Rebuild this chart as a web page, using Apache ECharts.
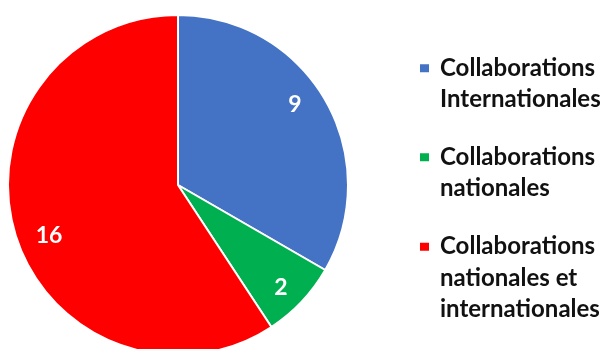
<!DOCTYPE html>
<html>
<head>
<meta charset="utf-8">
<script src="https://cdn.jsdelivr.net/npm/echarts@6/dist/echarts.min.js"></script>
<style>
  html, body { margin: 0; padding: 0; background: #ffffff; }
  #chart { width: 609px; height: 349px; }
</style>
</head>
<body>
<div id="chart"></div>
<script>
// Collaboration types and their counts
const categories = [
  'Collaborations\nInternationales',
  'Collaborations\nnationales',
  'Collaborations\nnationales et\ninternationales'
];
const counts = [9, 2, 16];
const sliceColors = ['#4472C4', '#00B050', '#FF0000'];

const FONT = 'Lato, "Open Sans", sans-serif';
const LINE_H = 31.5;

// small nudges of the value labels off the mid-angle (in px)
const labelNudge = [[-7, -9], [-1, 4], [8, 10]];

const pieData = categories.map((name, i) => ({
  name: name,
  value: counts[i],
  itemStyle: { color: sliceColors[i] }
}));

// One legend block per category; leading blank lines keep the swatch
// level with the first line of its text
const legendTops = [16, 105, 163];
const legends = categories.map((name, i) => {
  const lines = name.split('\n').length;
  return {
    data: [name],
    left: 413,
    top: legendTops[i],
    orient: 'vertical',
    icon: 'rect',
    itemWidth: 11,
    itemHeight: 10,
    selectedMode: false,
    formatter: (n) => '\n'.repeat(lines - 1) + n,
    textStyle: {
      fontFamily: FONT,
      fontWeight: 'bold',
      fontSize: 24,
      color: '#111111',
      lineHeight: LINE_H,
      padding: [0, 0, 0, 5]
    }
  };
});

const chart = echarts.init(document.getElementById('chart'), null, { renderer: 'canvas' });
chart.setOption({
  backgroundColor: '#ffffff',
  animation: false,
  legend: legends,
  series: [
    {
      name: 'slices',
      type: 'pie',
      center: [178, 185],
      radius: 170,
      startAngle: 90,
      clockwise: true,
      silent: true,
      label: { show: false },
      labelLine: { show: false },
      itemStyle: { borderColor: '#ffffff', borderWidth: 2 },
      emphasis: { disabled: true },
      data: pieData
    },
    {
      // transparent ring that only carries the value labels
      name: 'values',
      type: 'pie',
      center: [178, 185],
      radius: [110, 170],
      startAngle: 90,
      clockwise: true,
      silent: true,
      legendHoverLink: false,
      itemStyle: { color: 'rgba(0,0,0,0)', borderWidth: 0 },
      emphasis: { disabled: true },
      label: {
        show: true,
        position: 'inside',
        formatter: '{c}',
        fontFamily: FONT,
        fontWeight: 'bold',
        fontSize: 23,
        color: '#ffffff'
      },
      labelLayout: (p) => ({ dx: labelNudge[p.dataIndex][0], dy: labelNudge[p.dataIndex][1] }),
      labelLine: { show: false },
      data: categories.map((name, i) => ({ name: name, value: counts[i] }))
    }
  ]
});
</script>
</body>
</html>
